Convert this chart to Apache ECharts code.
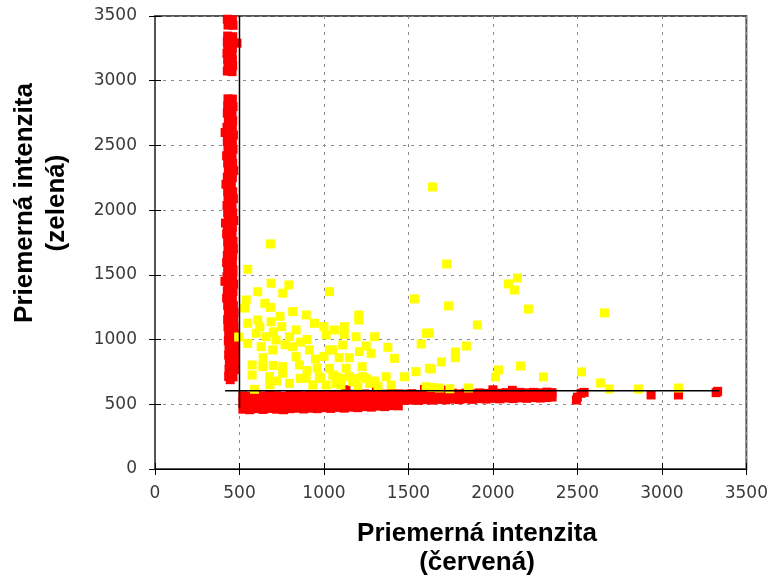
<!DOCTYPE html>
<html><head><meta charset="utf-8">
<script src="https://cdn.jsdelivr.net/npm/echarts@6/dist/echarts.min.js"></script>
<style>html,body{margin:0;padding:0;background:#fff}#c{width:771px;height:579px}</style>
</head><body><div id="c"></div>
<script>
const xTitle = ['Priemerná intenzita', '(červená)'];
const yTitle = ['Priemerná intenzita', '(zelená)'];
const axisMin = 0, axisMax = 3500, axisStep = 500;
const tickLabels = ['0','500','1000','1500','2000','2500','3000','3500'];

const yellowPoints = [
 [683,1739],[1642,2179],[1726,1584],[2092,1430],[2145,1476],[2127,1383],[1737,1260],[2210,1236],
 [1908,1113],[1624,1051],[1843,950],[1778,904],[1778,860],[1695,827],[1636,773],[2033,765],
 [2015,711],[2163,796],[2299,711],[1855,626],[1636,630],[1684,626],[1745,620],
 [2660,1206],[2524,750],[2636,665],[2689,618],[2861,618],[3098,626],
 [549,1543],[687,1435],[792,1422],[608,1370],[756,1358],[540,1306],[1033,1370],[683,1249],
 [815,1216],[895,1190],[944,1126],[608,1151],[549,1126],[687,1138],[835,1074],[599,1049],
 [658,1022],[717,997],[796,1022],[1013,1036],[549,971],[628,945],[815,945],[914,920],
 [1033,920],[697,920],[835,868],[575,804],[638,791],[756,791],[855,804],[575,726],[678,713],
 [756,739],[895,701],[973,713],[1052,726],[589,616],[796,662],[934,649],[1013,649],
 [530,1244],[495,1020],
 [1536,1314],[1206,1151],[1206,1190],[1121,1100],[1062,1074],[1605,1049],[1299,1022],[1190,1022],
 [1111,958],[1378,940],[1575,966],[1052,920],[1279,894],[1210,907],[1417,855],[1033,778],
 [1131,778],[1226,791],[1624,778],[1368,713],[1476,713],[1545,752],[1072,713],[1151,713],
 [1230,713],[1072,662],[1170,675],[1269,662],[1398,649],[1605,636],
 [680,650],[720,680],[900,760],[960,780],[1100,650],[1200,640],[1320,640],[1150,860],
 [1250,950],[1000,1100],[900,1000],[750,1100],[650,1280],[1120,1040],
 [620,1100],[700,1060],[770,960],[860,980],[950,850],[980,700],[1100,700],[860,700],
 [640,860],[700,800],[1180,700],[1250,700],[1300,680],[1000,870],[740,1180],[1090,860]
];

const redVertical = [
 [428,3475],[458,3470],[432,3430],[462,3428],
 [430,3345],[460,3340],[428,3300],[462,3298],[485,3290],[430,3255],[458,3252],[426,3210],[456,3208],
 [430,3165],[458,3162],[432,3120],[460,3118],[428,3075],[456,3070],
 [432,2860],[458,2858],[430,2805],[462,2800],[428,2750],[456,2752],[434,2695],[460,2690],
 [426,2640],[458,2642],[430,2585],[464,2580],[428,2530],[458,2528],[432,2475],[462,2470],
 [424,2420],[456,2418],[430,2365],[460,2362],[434,2310],[466,2305],[428,2255],[458,2250],
 [420,2200],[452,2198],[430,2145],[460,2142],[432,2090],[464,2088],[426,2035],[456,2030],
 [430,1980],[460,1978],[434,1925],[466,1920],[428,1870],[458,1868],[424,1815],[456,1812],
 [430,1760],[462,1758],[432,1705],[464,1700],[428,1650],[460,1648],[424,1595],[458,1592],
 [430,1540],[462,1538],[426,1485],[460,1482],[432,1430],[466,1428],[428,1375],[462,1372],
 [424,1320],[458,1318],[430,1265],[464,1262],[434,1210],[468,1208],[430,1155],[466,1150],
 [432,1100],[468,1098],[436,1045],[470,1042],[434,990],[470,988],[438,935],[472,932],
 [436,880],[472,878],[440,825],[474,822],[438,770],[470,768],[436,715],[462,712],[445,690],
 [415,2600],[417,1900],[414,1450]
];

const redHorizontal = [
 [520,462],[560,458],[600,466],[640,460],[680,468],[720,462],[760,458],[800,466],[840,470],
 [880,464],[920,470],[960,466],[1000,474],[1040,468],[1080,476],[1120,470],[1160,478],[1200,474],
 [1240,482],[1280,478],[1320,486],[1360,482],[1400,490],[1440,488],
 [520,515],[560,512],[600,518],[640,514],[680,520],[720,516],[760,512],[800,518],[840,522],
 [880,516],[920,522],[960,518],[1000,526],[1040,520],[1080,528],[1120,522],[1160,530],[1200,526],
 [1240,532],[1280,528],[1320,534],[1360,530],[1400,536],[1440,532],[1480,530],[1520,534],
 [1560,530],[1600,536],[1640,532],[1680,538],[1720,534],[1760,540],[1800,536],[1840,542],
 [1880,538],[1920,544],[1960,540],[2000,546],[2040,542],[2080,548],[2120,544],[2160,550],
 [2200,546],[2240,552],[2280,548],[2320,552],[2350,556],
 [520,565],[560,562],[600,568],[640,564],[680,570],[720,566],[760,562],[800,568],[840,572],
 [880,566],[920,572],[960,568],[1000,574],[1040,570],[1080,576],[1120,572],[1160,578],[1200,574],
 [1240,580],[1280,576],[1320,582],[1360,578],[1400,584],[1440,580],[1480,578],[1520,582],
 [1560,576],[1600,584],[1640,580],[1680,586],[1720,582],[1760,586],[1800,580],[1840,586],
 [1880,582],[1920,588],[1960,584],[2000,590],[2040,586],[2080,590],[2120,586],[2160,592],
 [2200,588],[2240,592],[2280,588],[2320,594],[2350,590],
 [1130,612],[1310,610],[1595,615],[1695,610],[2000,612],[2115,608]
];

const redRight = [
 [2494,533],[2500,555],[2522,585],[2540,592],[2936,572],[3098,572],[3098,590],[3321,590],[3330,600]
];

const lineH = [[415,605],[3340,605]];
const lineV = [[500,470],[500,3500]];

const chart = echarts.init(document.getElementById('c'), null, {renderer:'canvas'});
const fmt = v => tickLabels[Math.round((v - axisMin) / axisStep)] ?? String(v);
const tickFont = {fontFamily:'DejaVu Sans', fontSize:17, color:'#3a3a3a', formatter:fmt};
const split = {show:true, lineStyle:{color:'#8a8a8a', type:[3,5], width:1}};
const titleFont = 'bold 26px "Liberation Sans", Arial, sans-serif';
const mk = {symbol:'rect', symbolSize:9, clip:true};

chart.setOption({
  animation:false,
  backgroundColor:'#fff',
  grid:{left:155, top:16, width:592, height:453, show:true, borderColor:'#555', borderWidth:2, backgroundColor:'transparent'},
  xAxis:[
    {type:'value', min:axisMin, max:axisMax, interval:axisStep, position:'bottom',
     axisLine:{show:true, lineStyle:{color:'#000', width:1}},
     axisTick:{show:true, inside:true, length:6, lineStyle:{color:'#000', width:1}},
     axisLabel:Object.assign({margin:16}, tickFont),
     splitLine:split},
    {type:'value', min:axisMin, max:axisMax, interval:axisStep, position:'top',
     axisLine:{show:false}, axisTick:{show:true, inside:true, length:6, lineStyle:{color:'#000'}},
     axisLabel:{show:false}, splitLine:{show:false}}
  ],
  yAxis:[
    {type:'value', min:axisMin, max:axisMax, interval:axisStep, position:'left',
     axisLine:{show:true, lineStyle:{color:'#555', width:2}},
     axisTick:{show:true, inside:true, length:6, lineStyle:{color:'#000', width:1}},
     axisLabel:Object.assign({margin:18}, tickFont),
     splitLine:split},
    {type:'value', min:axisMin, max:axisMax, interval:axisStep, position:'right',
     axisLine:{show:false}, axisTick:{show:true, inside:true, length:6, lineStyle:{color:'#000'}},
     axisLabel:{show:false}, splitLine:{show:false}}
  ],
  series:[
    Object.assign({type:'scatter', data:redVertical, itemStyle:{color:'#ff0000', opacity:1, borderWidth:0}, z:2}, mk),
    Object.assign({type:'scatter', data:redHorizontal, itemStyle:{color:'#ff0000', opacity:1, borderWidth:0}, z:2}, mk),
    Object.assign({type:'scatter', data:redRight, itemStyle:{color:'#ff0000', opacity:1, borderWidth:0}, z:2}, mk),
    Object.assign({type:'scatter', data:yellowPoints, itemStyle:{color:'#ffff00', opacity:1, borderWidth:0}, z:3}, mk),
    {type:'line', data:lineH, symbol:'none', lineStyle:{color:'#000', width:1.5}, z:5},
    {type:'line', data:lineV, symbol:'none', lineStyle:{color:'#000', width:1.5}, z:5}
  ],
  graphic:[
    {type:'text', x:477, y:548, style:{text:xTitle.join('\n'), font:titleFont, fill:'#000',
      textAlign:'center', textVerticalAlign:'middle', align:'center', verticalAlign:'middle', lineHeight:29}},
    {type:'text', x:41, y:203, rotation:Math.PI/2, style:{text:yTitle.join('\n'), font:titleFont, fill:'#000',
      textAlign:'center', textVerticalAlign:'middle', align:'center', verticalAlign:'middle', lineHeight:32}}
  ]
});
</script></body></html>
